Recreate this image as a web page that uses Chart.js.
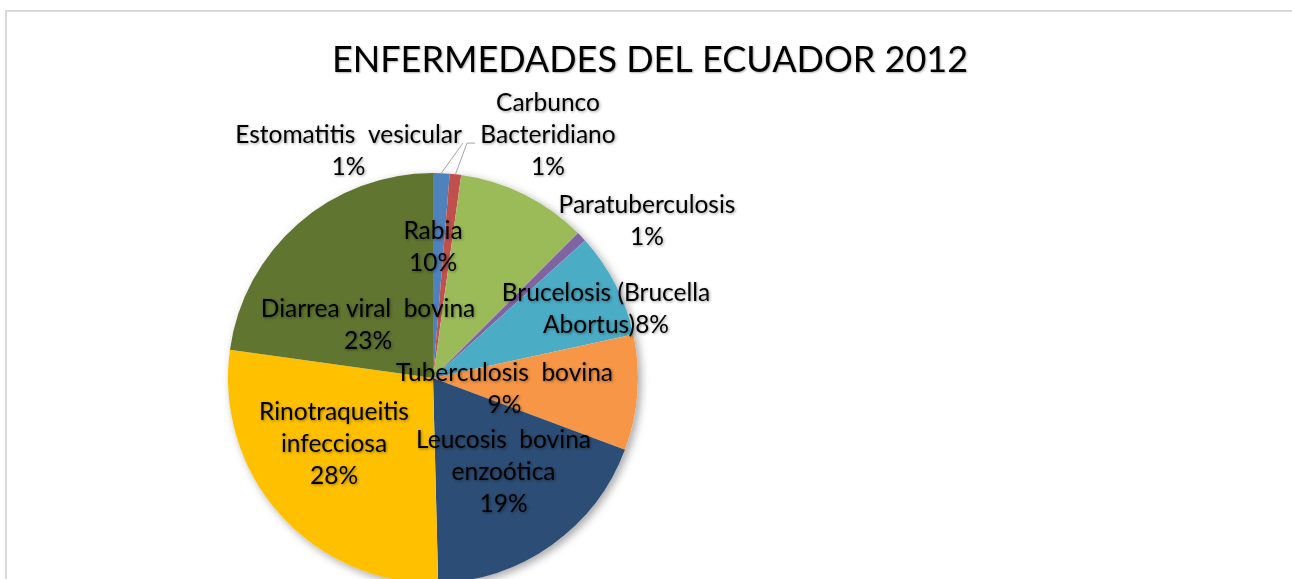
<!DOCTYPE html>
<html>
<head>
<meta charset="utf-8">
<script src="https://cdn.jsdelivr.net/npm/chart.js@4/dist/chart.umd.min.js"></script>
<style>
  body { margin: 0; background: #fff; overflow: hidden; }
  #frame { position: absolute; left: 5px; top: 10px; width: 1400px; height: 700px; border: 2px solid #d9d9d9; }
  #c { position: absolute; left: 0; top: 0; }
</style>
</head>
<body>
<div id="frame"></div>
<canvas id="c" width="1292" height="620"></canvas>
<script>
// Data (percent of cases)
var diseases = ["Estomatitis  vesicular", "Carbunco\nBacteridiano", "Rabia", "Paratuberculosis",
  "Brucelosis (Brucella\nAbortus)", "Tuberculosis  bovina", "Leucosis  bovina\nenzoótica",
  "Rinotraqueitis\ninfecciosa", "Diarrea viral  bovina"];
var shares = [1.3, 0.9, 10.3, 0.8, 8.3, 9.1, 18.9, 27.6, 22.8];
var sliceColors = ["#4f81bd", "#c0504d", "#9bbb59", "#8064a2", "#4bacc6", "#f79646", "#2c4d75", "#ffc000", "#5f7530"];

// label placement, in pie radii from the centre
var labelSpots = [[-0.412, -1.107], [0.561, -1.185], [0, -0.637], [1.044, -0.766], [0.844, -0.334],
  [0.349, 0.054], [0.344, 0.461], [-0.483, 0.322], [-0.317, -0.259]];
// leader lines for the two thin slices at the top
var leaders = {0: [[0.146, -1.146]], 1: [[0.166, -1.146], [0.205, -1.146]]};

var FONT = "Lato, 'Open Sans', sans-serif";

var piePlugin = {
  id: "pieExtras",
  beforeDatasetsDraw: function (chart) {
    // soft shadow under the pie
    var arc = chart.getDatasetMeta(0).data[0];
    var ctx = chart.ctx;
    ctx.save();
    ctx.shadowColor = "rgba(0,0,0,0.35)";
    ctx.shadowBlur = 9;
    ctx.shadowOffsetX = 3;
    ctx.shadowOffsetY = 3;
    ctx.fillStyle = "#fff";
    ctx.beginPath();
    ctx.arc(arc.x, arc.y, arc.outerRadius, 0, Math.PI * 2);
    ctx.fill();
    ctx.restore();
  },
  afterDatasetsDraw: function (chart) {
    var ctx = chart.ctx;
    var meta = chart.getDatasetMeta(0);
    var cx = meta.data[0].x, cy = meta.data[0].y, r = meta.data[0].outerRadius;

    // title
    ctx.save();
    ctx.fillStyle = "#000";
    ctx.font = "36px " + FONT;
    ctx.textAlign = "center";
    ctx.textBaseline = "middle";
    ctx.shadowColor = "rgba(0,0,0,0.3)";
    ctx.shadowBlur = 2;
    ctx.shadowOffsetX = 1;
    ctx.shadowOffsetY = 1;
    ctx.fillText("ENFERMEDADES DEL ECUADOR 2012", 650, 60);
    ctx.restore();

    // leader lines
    ctx.save();
    ctx.strokeStyle = "#a6a6a6";
    ctx.lineWidth = 1;
    Object.keys(leaders).forEach(function (k) {
      var a = meta.data[k];
      var mid = (a.startAngle + a.endAngle) / 2;
      ctx.beginPath();
      ctx.moveTo(cx + Math.cos(mid) * r, cy + Math.sin(mid) * r);
      leaders[k].forEach(function (p) { ctx.lineTo(cx + p[0] * r, cy + p[1] * r); });
      ctx.stroke();
    });
    ctx.restore();

    // data labels
    ctx.save();
    ctx.font = "24.5px " + FONT;
    ctx.fillStyle = "#000";
    ctx.textAlign = "center";
    ctx.textBaseline = "middle";
    ctx.shadowColor = "rgba(0,0,0,0.4)";
    ctx.shadowBlur = 3;
    ctx.shadowOffsetX = 1;
    ctx.shadowOffsetY = 1;
    for (var i = 0; i < shares.length; i++) {
      var pct = Math.round(shares[i]) + "%";
      var text = diseases[i] + (i == 4 ? "" : "\n") + pct;
      var lines = text.split("\n");
      var lx = cx + labelSpots[i][0] * r;
      var ly = cy + labelSpots[i][1] * r;
      var lh = 32;
      var y0 = ly - (lines.length - 1) * lh / 2;
      for (var j = 0; j < lines.length; j++) {
        ctx.fillText(lines[j], lx, y0 + j * lh);
      }
    }
    ctx.restore();
  }
};

new Chart(document.getElementById("c"), {
  type: "pie",
  data: {
    labels: diseases,
    datasets: [{
      data: shares,
      backgroundColor: sliceColors,
      borderWidth: 0
    }]
  },
  options: {
    responsive: false,
    animation: false,
    layout: { padding: { left: 228, right: 654, top: 173, bottom: 37 } },
    plugins: {
      legend: { display: false },
      tooltip: { enabled: false }
    }
  },
  plugins: [piePlugin]
});
</script>
</body>
</html>
